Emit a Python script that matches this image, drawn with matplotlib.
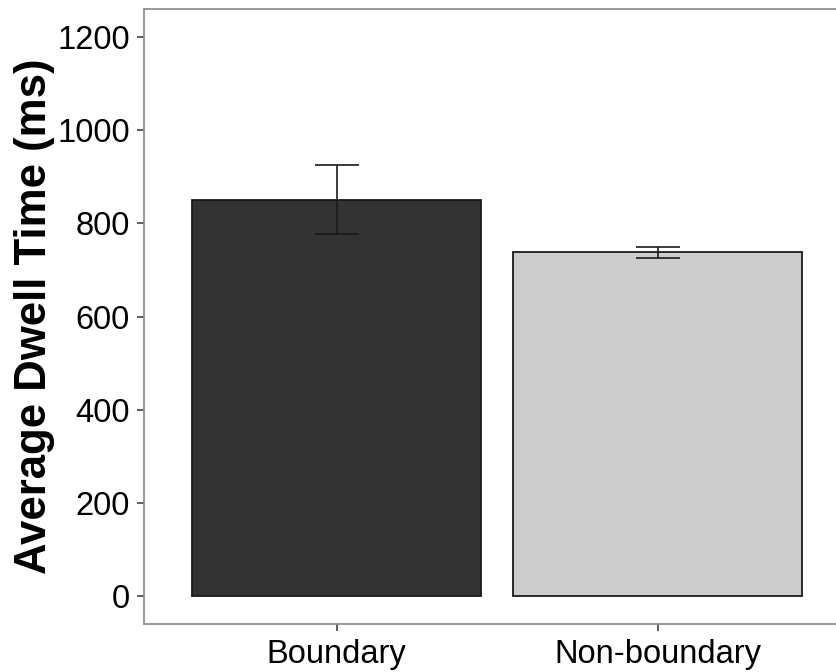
import matplotlib
matplotlib.use("Agg")
import matplotlib.pyplot as plt

categories = ["Boundary", "Non-boundary"]
means = [851, 738]
errors = [74, 12]
colors = ["#333333", "#cccccc"]

plt.rcParams['font.family'] = ['Liberation Sans', 'DejaVu Sans']

fig = plt.figure(figsize=(8.36, 6.72), dpi=100)
ax = fig.add_axes([144/836, 48/672, 706.5/836, 615/672])

x = list(range(1, len(categories) + 1))
ax.bar(x, means, width=0.9, color=colors, edgecolor="#1a1a1a", linewidth=1.3, zorder=2)
ax.errorbar(x, means, yerr=errors, fmt="none", ecolor="#1a1a1a", elinewidth=1.2,
            capsize=16, capthick=1.2, zorder=3)

ax.set_xlim(0.4, 2.6)
ax.set_ylim(-60, 1260)
ax.set_yticks([0, 200, 400, 600, 800, 1000, 1200])
ax.set_xticks(x)
ax.set_xticklabels(categories)

for s in ["left", "bottom", "top", "right"]:
    ax.spines[s].set_color("#888888")
    ax.spines[s].set_linewidth(1.2)

ax.tick_params(axis="both", colors="#333333", length=5, width=1.1, labelsize=23.5,
               labelcolor="black", pad=5)
ax.tick_params(axis="x", pad=6)

ax.set_ylabel("Average Dwell Time (ms)", fontsize=31.5, fontweight="bold", labelpad=2)

fig.savefig("out.png", dpi=100)
